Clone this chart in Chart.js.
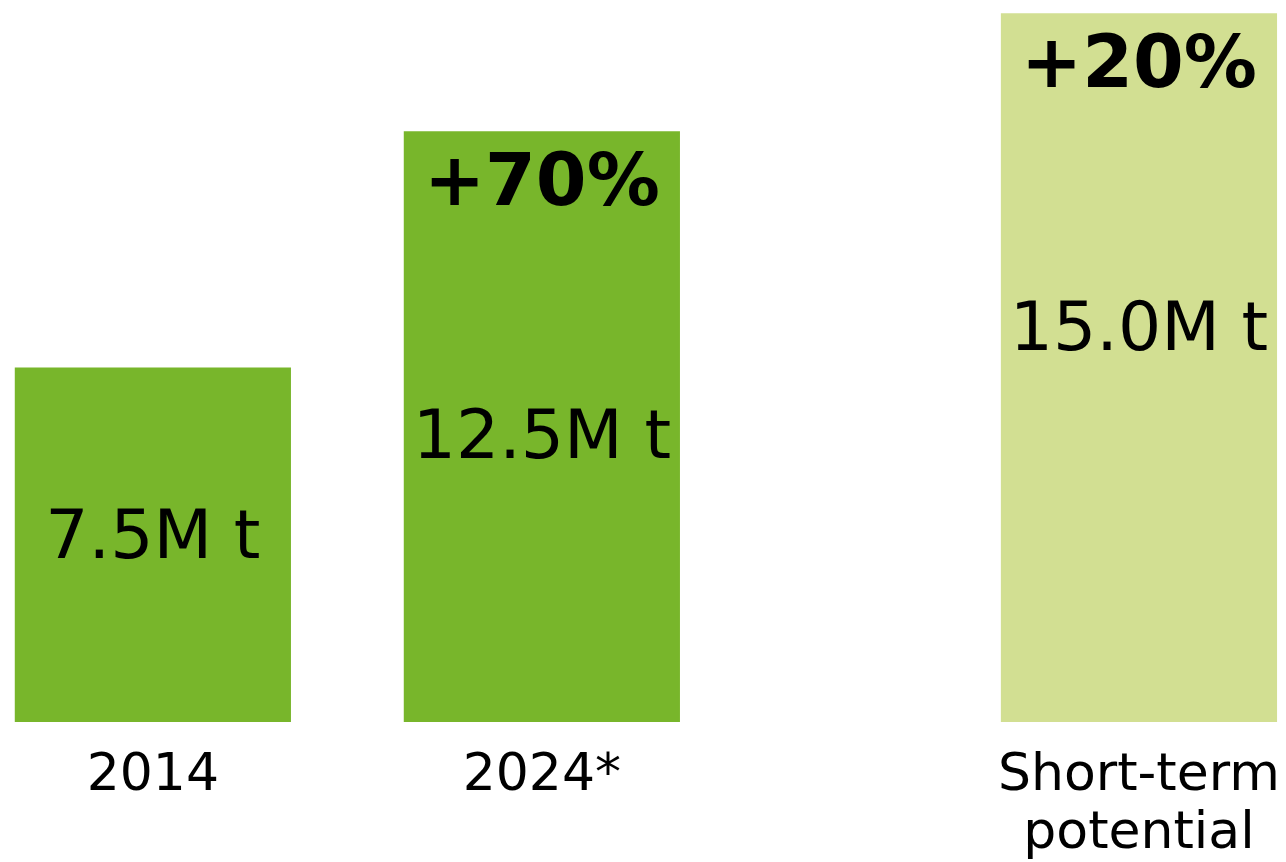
<!DOCTYPE html>
<html>
<head>
<meta charset="utf-8">
<script src="https://cdn.jsdelivr.net/npm/chart.js@4/dist/chart.umd.min.js"></script>
<style>
  html, body { margin: 0; padding: 0; background: #ffffff; }
  #wrap { width: 1286px; height: 862px; position: relative; }
</style>
</head>
<body>
<div id="wrap"><canvas id="volumeChart"></canvas></div>
<script>
const categories = ["2014", "2024*", ["Short-term", "potential"]];
const categoryPos = [0, 1, 2.535];
const volumes = [7.5, 12.5, 15.0];
const volumeLabels = ["7.5M t", "12.5M t", "15.0M t"];
const growthLabels = ["", "+70%", "+20%"];

const palette = {
  actual: "#78B62B",
  potential: "#D2DF92",
  text: "#000000",
};
const barColors = [palette.actual, palette.actual, palette.potential];

const barLabelPlugin = {
  id: "barLabels",
  afterDatasetsDraw(chart, args, opts) {
    const { ctx } = chart;
    const meta = chart.getDatasetMeta(0);
    const yScale = chart.scales.y;

    ctx.save();
    ctx.textAlign = "center";
    ctx.textBaseline = "middle";
    ctx.fillStyle = palette.text;

    meta.data.forEach((bar, i) => {
      ctx.font = "68px 'DejaVu Sans', Verdana, sans-serif";
      ctx.fillText(volumeLabels[i], bar.x, yScale.getPixelForValue(opts.valueAt[i]));

      if (growthLabels[i]) {
        ctx.font = "bold 73px 'DejaVu Sans', Verdana, sans-serif";
        ctx.fillText(growthLabels[i], bar.x, bar.y + 55);
      }
    });

    ctx.restore();
  }
};

new Chart(document.getElementById("volumeChart").getContext("2d"), {
  type: "bar",
  data: {
    datasets: [{
      data: volumes.map((v, i) => ({ x: categoryPos[i], y: v })),
      backgroundColor: barColors,
      borderWidth: 0,
      categoryPercentage: 0.71,
      barPercentage: 1,
    }]
  },
  plugins: [barLabelPlugin],
  options: {
    responsive: true,
    maintainAspectRatio: false,
    animation: false,
    layout: { padding: 0 },
    plugins: {
      legend: { display: false },
      tooltip: { enabled: false },
      barLabels: { valueAt: [3.85, 5.97, 8.24] },
    },
    scales: {
      x: {
        type: "linear",
        offset: false,
        min: -0.393,
        max: 2.913,
        grid: { display: false },
        border: { display: false },
        afterBuildTicks: scale => { scale.ticks = categoryPos.map(v => ({ value: v })); },
        afterFit: scale => {
          // labels sit well inside the canvas, no edge padding wanted
          scale.height = 140;
          scale.paddingLeft = 0;
          scale.paddingRight = 0;
        },
        ticks: {
          color: palette.text,
          padding: 17,
          autoSkip: false,
          maxRotation: 0,
          font: { family: "'DejaVu Sans', Verdana, sans-serif", size: 52, lineHeight: 1.12 },
          callback: value => categories[categoryPos.indexOf(value)],
        }
      },
      y: {
        display: false,
        min: 0,
        max: 15.28,
      }
    }
  }
});
</script>
</body>
</html>
